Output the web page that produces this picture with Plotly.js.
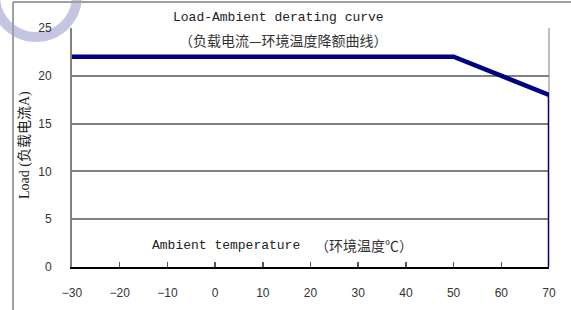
<!DOCTYPE html>
<html>
<head>
<meta charset="utf-8">
<script src="https://cdn.plot.ly/plotly-3.0.1.min.js"></script>
<style>html,body{margin:0;padding:0;background:#fff;}#chart{width:571px;height:310px;}</style>
</head>
<body>
<div id="chart"></div>
<script>
// Derating curve data
const tempCurve = [-30, 50, 70];
const loadCurve = [22, 22, 18];
const tempDrop = [70, 70];
const loadDrop = [18, 0];
const xTicks = [-30, -20, -10, 0, 10, 20, 30, 40, 50, 60, 70];
const yTicks = [0, 5, 10, 15, 20, 25];

const titleText = "Load-Ambient derating curve";
const subtitleText = "（负载电流—环境温度降额曲线）";
const xTitleLatin = "Ambient temperature";
const xTitleCJK = "（环境温度℃）";
const yTitleText = "Load (负载电流A)";

const L = 72, R = 549, T = 28, B = 267;
const W = 571, H = 310;
const px = x => (x - L) / (R - L);
const py = y => (B - y) / (B - T);

const monoFont = {family: "Liberation Mono, Noto Sans CJK SC, monospace", size: 13, color: "#222"};
const cjkFont = {family: "Noto Sans CJK SC, sans-serif", size: 14, color: "#333"};

const traces = [
  {x: tempCurve, y: loadCurve, mode: "lines", line: {color: "#000080", width: 4.5}, cliponaxis: false, hoverinfo: "none"},
  {x: tempDrop, y: loadDrop, mode: "lines", line: {color: "#000080", width: 2.5}, cliponaxis: false, hoverinfo: "none"}
];

const layout = {
  width: W, height: H,
  margin: {l: L, r: W - R, t: T, b: H - B, pad: 0},
  paper_bgcolor: "#fff", plot_bgcolor: "#fff",
  showlegend: false,
  xaxis: {
    range: [-30, 70], tickvals: xTicks, ticks: "inside", ticklen: 5, tickwidth: 1.5, tickcolor: "#555",
    showgrid: false, zeroline: false, showline: true, linecolor: "#000", linewidth: 1.5,
    tickfont: {family: "Liberation Sans, Arial, sans-serif", size: 12, color: "#333"},
    ticklabelstandoff: 14, fixedrange: true
  },
  yaxis: {
    range: [0, 25], tickvals: yTicks, ticks: "", showgrid: true, gridcolor: "#808080", gridwidth: 2,
    zeroline: false, showline: true, linecolor: "#808080", linewidth: 2,
    tickfont: {family: "Liberation Sans, Arial, sans-serif", size: 12, color: "#333"},
    ticklabelstandoff: 16, fixedrange: true
  },
  shapes: [
    {type: "circle", xref: "paper", yref: "paper", x0: px(-5), x1: px(77), y0: py(37), y1: py(-45),
     line: {color: "rgba(140,140,195,0.5)", width: 10}, layer: "below"},
    {type: "line", xref: "paper", yref: "paper", x0: px(13), x1: px(13), y0: py(2), y1: py(312),
     line: {color: "#a0a0a0", width: 2}},
    {type: "line", xref: "paper", yref: "paper", x0: px(13), x1: px(573), y0: py(2), y1: py(2),
     line: {color: "#a0a0a0", width: 2}},
    {type: "line", xref: "paper", yref: "paper", x0: 1, x1: 1, y0: 0, y1: 1,
     line: {color: "#c0c0c0", width: 2}, layer: "below"}
  ],
  annotations: [
    {text: titleText, xref: "paper", yref: "paper", x: px(278), y: py(17), showarrow: false, font: monoFont, xanchor: "center", yanchor: "middle"},
    {text: subtitleText, xref: "paper", yref: "paper", x: px(283), y: py(40), showarrow: false, font: cjkFont, xanchor: "center", yanchor: "middle"},
    {text: xTitleLatin, xref: "paper", yref: "paper", x: px(150), y: py(245), showarrow: false, font: monoFont, xanchor: "left", yanchor: "middle"},
    {text: xTitleCJK, xref: "paper", yref: "paper", x: px(415), y: py(245), showarrow: false, font: cjkFont, xanchor: "right", yanchor: "middle"},
    {text: yTitleText, xref: "paper", yref: "paper", x: px(25), y: py(145), showarrow: false, textangle: -90,
     font: {family: "Liberation Serif, Noto Sans CJK SC, serif", size: 14, color: "#222"}, xanchor: "center", yanchor: "middle"}
  ]
};

Plotly.newPlot("chart", traces, layout, {staticPlot: true, displayModeBar: false});
</script>
</body>
</html>
